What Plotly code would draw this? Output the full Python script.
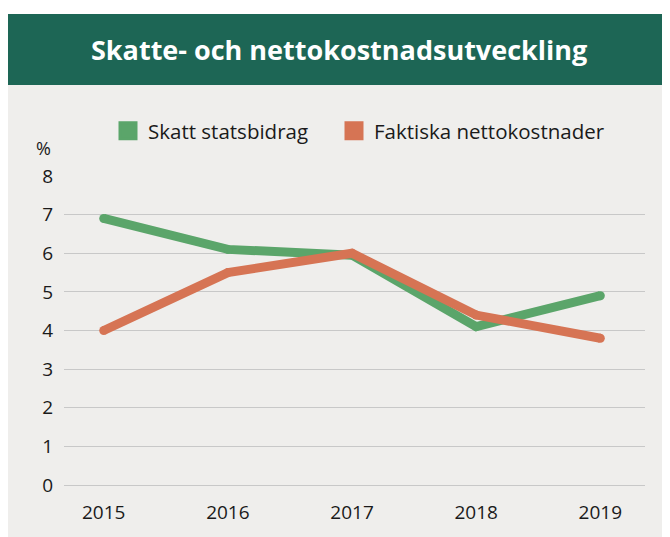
import plotly.graph_objects as go

years = ["2015", "2016", "2017", "2018", "2019"]
skatt = [6.9, 6.1, 5.95, 4.1, 4.9]
netto = [4.0, 5.5, 6.0, 4.4, 3.8]
series_names = ["Skatt statsbidrag", "Faktiska nettokostnader"]
y_ticks = [0, 1, 2, 3, 4, 5, 6, 7, 8]

GREEN = "#5ba56a"
ORANGE = "#d67454"
HEADER = "#1d6655"
PANEL = "#efeeec"
GRID = "#c8c8c8"
FONT = "Open Sans"

# page has an 8px body margin; figure coords = page coords - 8
W, H = 662, 529
L, R, T, B = 56, 25, 168, 52
pw, ph = W - L - R, H - T - B

def px(x):
    return (x - L) / pw

def py(y):
    return (H - B - y) / ph

fig = go.Figure()
for name, vals, col in [(series_names[0], skatt, GREEN), (series_names[1], netto, ORANGE)]:
    fig.add_trace(go.Scatter(x=years, y=vals, mode="lines+markers", name=name,
                             line=dict(color=col, width=9),
                             marker=dict(color=col, size=9, symbol="circle"),
                             showlegend=False, hoverinfo="skip", cliponaxis=False))
for name, col, lg in [(series_names[0], GREEN, "legend"), (series_names[1], ORANGE, "legend2")]:
    fig.add_trace(go.Scatter(x=[None], y=[None], mode="markers", name=name, legend=lg,
                             marker=dict(color=col, size=16, symbol="square",
                                         line=dict(color=col, width=3)),
                             showlegend=True))

leg_common = dict(orientation="h", yanchor="middle", xanchor="left",
                  bgcolor="rgba(0,0,0,0)", font=dict(size=20.5, color="#1a1a1a"))

fig.update_layout(
    width=W, height=H,
    margin=dict(l=L, r=R, t=T, b=B),
    paper_bgcolor="white", plot_bgcolor=PANEL,
    font=dict(family=FONT, size=19, color="#1a1a1a"),
    showlegend=True,
    legend=dict(x=px(100), y=py(123), **leg_common),
    legend2=dict(x=px(326), y=py(123), **leg_common),
    xaxis=dict(type="category", range=[-0.32, 4.36], showgrid=False, zeroline=False,
               showline=False, ticks="", tickfont=dict(size=19), ticklabelstandoff=14),
    yaxis=dict(range=[0, 8], tickvals=y_ticks, showgrid=True, gridcolor=GRID,
               gridwidth=1.2, zeroline=True, zerolinecolor=GRID, zerolinewidth=1.2,
               showline=False, ticks="", ticklabelstandoff=10, tickfont=dict(size=19)),
    shapes=[
        dict(type="rect", xref="paper", yref="paper", x0=px(-1), x1=px(662), y0=py(77), y1=py(529),
             fillcolor=PANEL, line=dict(width=0), layer="below"),
        dict(type="rect", xref="paper", yref="paper", x0=px(-1), x1=px(662), y0=py(6), y1=py(77),
             fillcolor=HEADER, line=dict(width=0), layer="below"),
    ],
    annotations=[
        dict(text="<b>Skatte- och nettokostnadsutveckling</b>", xref="paper", yref="paper",
             x=px(331), y=py(42), xanchor="center", yanchor="middle", showarrow=False,
             font=dict(family=FONT, size=27, color="white")),
        dict(text="%", xref="paper", yref="paper", x=px(45), y=py(140), xanchor="right",
             yanchor="middle", showarrow=False, font=dict(family=FONT, size=18, color="#1a1a1a")),
    ],
)

fig.write_html("out.html")
